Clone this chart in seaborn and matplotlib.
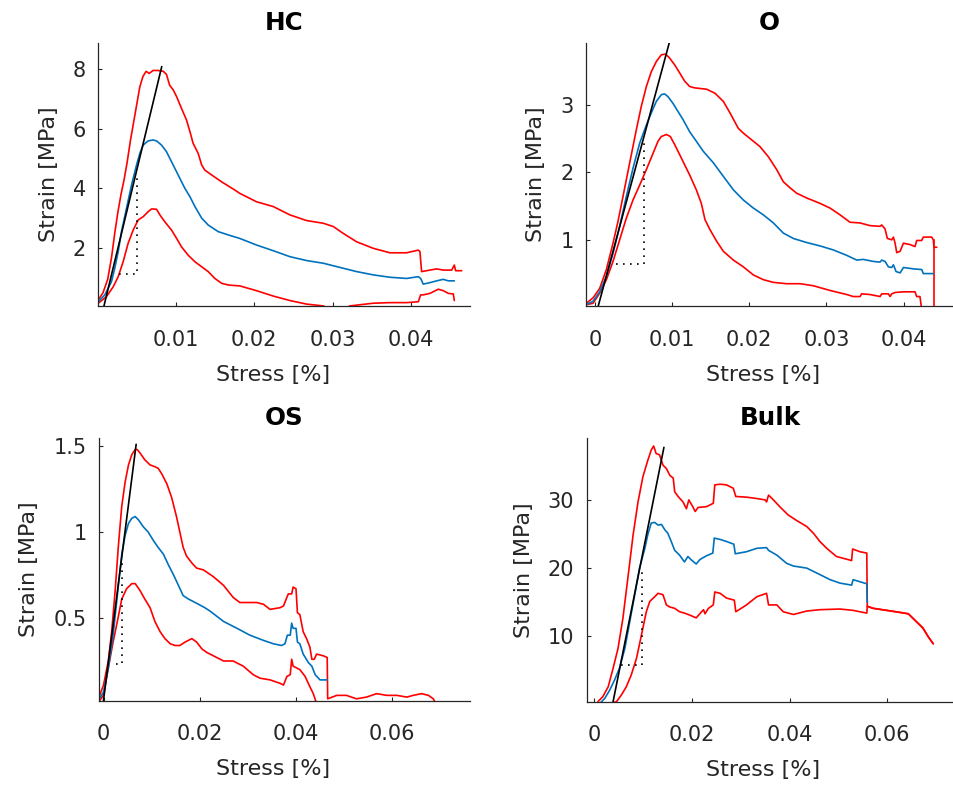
import matplotlib
matplotlib.use("Agg")
import matplotlib.pyplot as plt
import seaborn as sns

# ---------------- data (Stress [%] vs Strain [MPa]) ----------------
titles = ["HC", "O", "OS", "Bulk"]

# HC
hc_up_x = [0.0001,0.0007,0.0013,0.0018,0.0022,0.0026,0.0030,0.0034,0.0038,0.0042,0.0046,0.0050,0.0054,0.0058,0.0062,0.0066,0.0071,0.0077,0.0084,0.0088,0.0092,0.00966,0.0101,0.01072,0.01136,0.0118,0.0122,0.01285,0.0133,0.0137,0.01456,0.01583,0.01754,0.01817,0.0203,0.02243,0.02456,0.02669,0.02882,0.0301,0.03137,0.03307,0.0352,0.03733,0.03946,0.04095,0.04116,0.04137,0.04201,0.04329,0.04414,0.04521,0.04555,0.04572,0.04649]
hc_up_y = [0.26,0.5,0.95,1.7,2.5,3.2,3.8,4.3,4.9,5.6,6.2,6.8,7.4,7.75,7.92,7.85,7.95,7.95,7.92,7.82,7.46,7.30,7.07,6.68,6.29,5.90,5.51,5.17,4.78,4.61,4.45,4.22,3.94,3.83,3.55,3.39,3.11,2.92,2.83,2.72,2.49,2.21,1.99,1.84,1.84,1.93,1.88,1.21,1.24,1.30,1.26,1.26,1.43,1.24,1.24]
hc_mean_x = [0.0001,0.00093,0.00178,0.0022,0.00264,0.00306,0.0037,0.00434,0.00498,0.0054,0.00583,0.00647,0.0071,0.00753,0.00817,0.0088,0.00945,0.00987,0.0105,0.01115,0.0118,0.01243,0.0133,0.01413,0.0154,0.01668,0.01817,0.0203,0.02243,0.02456,0.02669,0.02882,0.03094,0.03307,0.0352,0.03733,0.03946,0.04095,0.04125,0.04158,0.04244,0.04329,0.04414,0.04478,0.04555]
hc_mean_y = [0.20,0.43,0.87,1.32,1.88,2.55,3.33,4.11,4.78,5.17,5.45,5.59,5.62,5.59,5.45,5.23,4.89,4.67,4.34,4.00,3.72,3.39,3.00,2.77,2.55,2.44,2.32,2.10,1.91,1.71,1.58,1.49,1.35,1.21,1.10,1.02,0.98,1.04,0.98,0.79,0.84,0.90,0.95,0.90,0.90]
hc_lo_x = [0.0001,0.00114,0.002,0.00264,0.00327,0.00391,0.00455,0.00519,0.00583,0.00647,0.0069,0.00753,0.00796,0.00859,0.00945,0.0101,0.01072,0.01157,0.01243,0.0133,0.01413,0.01498,0.01583,0.01668,0.01817,0.0203,0.02243,0.02456,0.02669,0.02882,0.02967,0.03137,0.03222,0.0352,0.03733,0.03946,0.04095,0.04125,0.04158,0.04244,0.0435,0.04414,0.04478,0.04542,0.04555]
hc_lo_y = [0.15,0.37,0.70,1.04,1.54,2.16,2.60,2.94,3.05,3.22,3.31,3.30,3.11,2.88,2.60,2.32,2.04,1.76,1.54,1.37,1.21,0.98,0.82,0.76,0.73,0.57,0.39,0.24,0.12,0.06,-0.05,-0.05,0.06,0.15,0.17,0.17,0.20,0.43,0.43,0.48,0.62,0.57,0.48,0.46,0.24]
hc_fit_x = [0.00077, 0.0082]
hc_fit_y = [0.0, 8.08]
hc_dot_x = [0.0028, 0.00498, 0.00498]
hc_dot_y = [1.13, 1.13, 4.37]

# O
o_up_x = [-0.0011,-0.00023,0.00063,0.0015,0.00236,0.003,0.00365,0.00452,0.00538,0.00603,0.00668,0.00732,0.00797,0.00862,0.00918,0.0097,0.01035,0.011,0.01164,0.01229,0.01294,0.01449,0.01557,0.01665,0.01751,0.01859,0.01924,0.02032,0.0214,0.02248,0.02356,0.02442,0.02529,0.02615,0.02744,0.02917,0.03047,0.03177,0.03306,0.03436,0.03566,0.03695,0.03717,0.0376,0.0379,0.03846,0.03868,0.0389,0.03911,0.03955,0.03998,0.04083,0.04148,0.0417,0.04234,0.04256,0.04364,0.04385,0.04394,0.0443]
o_up_y = [0.06,0.14,0.28,0.56,0.95,1.27,1.64,2.14,2.63,2.98,3.27,3.49,3.64,3.74,3.75,3.69,3.59,3.47,3.35,3.27,3.25,3.23,3.17,3.05,2.88,2.65,2.58,2.48,2.38,2.23,2.04,1.86,1.77,1.69,1.62,1.54,1.47,1.37,1.26,1.25,1.21,1.20,1.22,1.16,1.02,1.00,1.04,0.95,0.81,0.83,0.95,0.93,0.90,0.99,0.99,1.04,1.04,1.00,0.89,0.89]
o_mean_x = [-0.0011,-0.00023,0.00063,0.0015,0.00236,0.00322,0.00408,0.00495,0.00581,0.00668,0.00732,0.00797,0.00862,0.00905,0.00948,0.01013,0.01078,0.01143,0.01229,0.01315,0.01406,0.01536,0.01665,0.01795,0.01924,0.02054,0.02183,0.02313,0.02442,0.02572,0.02744,0.02917,0.0309,0.03263,0.03393,0.03479,0.03608,0.03695,0.03717,0.0376,0.03803,0.03846,0.03868,0.03903,0.03955,0.03998,0.04126,0.04234,0.04256,0.04385]
o_mean_y = [0.04,0.09,0.23,0.46,0.80,1.20,1.64,2.06,2.43,2.70,2.88,3.05,3.15,3.16,3.12,3.02,2.90,2.78,2.60,2.46,2.31,2.14,1.94,1.74,1.59,1.47,1.37,1.25,1.10,1.02,0.96,0.91,0.85,0.77,0.70,0.71,0.68,0.67,0.70,0.68,0.60,0.59,0.63,0.53,0.51,0.59,0.57,0.56,0.50,0.50]
o_lo_x = [-0.0011,-0.00023,0.00063,0.0015,0.00236,0.00322,0.00408,0.00495,0.00581,0.00668,0.00754,0.00819,0.00862,0.00927,0.00978,0.01035,0.011,0.01164,0.01229,0.01315,0.0138,0.01427,0.01492,0.01578,0.01665,0.01795,0.01924,0.02054,0.02183,0.02313,0.02485,0.0266,0.02831,0.03047,0.03263,0.03349,0.03436,0.03457,0.03565,0.03695,0.03717,0.03803,0.03825,0.03846,0.0389,0.03998,0.04148,0.0417,0.04212,0.04243,0.04394,0.04394]
o_lo_y = [0.04,0.06,0.21,0.41,0.68,1.00,1.32,1.59,1.81,2.04,2.28,2.46,2.53,2.56,2.53,2.41,2.26,2.11,1.96,1.74,1.54,1.30,1.15,0.98,0.83,0.70,0.60,0.48,0.41,0.37,0.35,0.35,0.32,0.25,0.19,0.16,0.16,0.20,0.19,0.16,0.20,0.20,0.16,0.20,0.22,0.23,0.23,0.16,0.16,-0.1,-0.1,1.0]
o_fit_x = [0.0004, 0.0097]
o_fit_y = [0.0, 3.94]
o_dot_x = [0.0028, 0.00635, 0.00635]
o_dot_y = [0.64, 0.64, 2.43]

# OS
os_up_x = [-0.00108,0,0.001,0.0017,0.0024,0.0031,0.0038,0.0045,0.0052,0.0059,0.0066,0.007,0.0076,0.0086,0.0097,0.0107,0.0114,0.0121,0.0132,0.0142,0.0152,0.0159,0.0166,0.0173,0.0184,0.0194,0.0208,0.0229,0.025,0.027,0.0284,0.0305,0.0319,0.0333,0.0347,0.0368,0.0375,0.0382,0.0385,0.0392,0.0395,0.0401,0.0404,0.0409,0.0416,0.0423,0.043,0.0434,0.0439,0.0444,0.0458,0.0466,0.0467,0.0486,0.0506,0.0527,0.0548,0.0569,0.059,0.0611,0.0632,0.0645,0.0663,0.0677,0.0687,0.0691]
os_up_y = [0.03,0.11,0.25,0.42,0.65,0.92,1.15,1.29,1.39,1.45,1.48,1.48,1.46,1.42,1.39,1.38,1.37,1.34,1.28,1.20,1.09,1.00,0.91,0.86,0.82,0.79,0.78,0.74,0.69,0.62,0.59,0.59,0.59,0.58,0.55,0.56,0.57,0.62,0.64,0.64,0.68,0.67,0.53,0.52,0.42,0.38,0.33,0.26,0.26,0.29,0.28,0.27,0.03,0.05,0.05,0.03,0.04,0.06,0.05,0.05,0.04,0.05,0.06,0.05,0.03,0.01]
os_mean_x = [-0.00108,0,0.001,0.002,0.0031,0.0038,0.0045,0.0052,0.0059,0.0066,0.0073,0.0083,0.0093,0.0104,0.0114,0.0125,0.0135,0.0146,0.0156,0.0166,0.0177,0.0191,0.0211,0.0222,0.025,0.0278,0.0305,0.0333,0.0354,0.0371,0.0378,0.0383,0.0389,0.0392,0.0395,0.0401,0.0404,0.0409,0.0416,0.0427,0.0434,0.0441,0.0451,0.0466]
os_mean_y = [0.02,0.07,0.21,0.40,0.69,0.87,0.98,1.05,1.08,1.09,1.07,1.03,1.00,0.95,0.91,0.87,0.81,0.75,0.69,0.63,0.61,0.59,0.56,0.54,0.48,0.44,0.40,0.37,0.35,0.34,0.35,0.40,0.40,0.47,0.44,0.44,0.36,0.35,0.29,0.24,0.22,0.17,0.14,0.14]
os_lo_x = [-0.00108,0,0.001,0.002,0.0031,0.0038,0.0048,0.0059,0.0066,0.0076,0.0086,0.0097,0.0107,0.0118,0.0128,0.0139,0.0149,0.0159,0.017,0.0184,0.0194,0.0205,0.0215,0.0236,0.025,0.027,0.0291,0.0312,0.0326,0.0347,0.0368,0.0375,0.0382,0.0389,0.0392,0.0395,0.0402,0.0409,0.042,0.043,0.0437,0.0443,0.0446]
os_lo_y = [0.01,0.05,0.21,0.36,0.51,0.61,0.67,0.70,0.70,0.66,0.61,0.56,0.48,0.42,0.38,0.35,0.34,0.34,0.36,0.38,0.36,0.32,0.30,0.27,0.25,0.25,0.22,0.17,0.15,0.14,0.12,0.11,0.16,0.17,0.26,0.22,0.21,0.20,0.16,0.10,0.06,0.01,-0.05]
os_fit_x = [-0.0001, 0.0068]
os_fit_y = [0.0, 1.51]
os_dot_x = [0.0026, 0.0038, 0.0038]
os_dot_y = [0.235, 0.235, 0.83]

# Bulk
bk_up_x = [0.0008,0.0018,0.0029,0.0039,0.0049,0.0059,0.007,0.008,0.009,0.01,0.011,0.0117,0.0122,0.0127,0.0134,0.0141,0.0148,0.0155,0.0162,0.0165,0.0172,0.0182,0.0189,0.0194,0.0202,0.0207,0.0213,0.023,0.0244,0.0247,0.0258,0.0271,0.0285,0.029,0.0312,0.0333,0.035,0.0353,0.0357,0.0367,0.038,0.0397,0.0414,0.0435,0.0449,0.0462,0.0476,0.0496,0.0517,0.0527,0.0529,0.0544,0.0558,0.0559,0.0571,0.0599,0.0626,0.0643,0.0653,0.0663,0.0673,0.0684,0.0694]
bk_up_y = [0.42,1.15,2.6,5.3,8.2,12.6,19.0,24.9,29.7,33.4,35.8,37.3,37.9,36.8,36.6,35.1,34.6,33.6,33.2,31.2,30.5,29.7,28.7,30.0,29.0,28.3,28.9,29.0,29.5,32.2,32.3,32.2,31.7,30.5,30.4,30.2,30.0,29.7,30.7,30.0,29.0,27.8,27.0,26.1,25.1,23.9,22.9,21.7,21.3,21.1,22.8,22.4,22.2,14.4,14.1,13.8,13.5,13.3,12.6,11.9,11.2,9.9,8.9]
bk_mean_x = [0.0012,0.0022,0.0032,0.0042,0.0052,0.0063,0.0073,0.0083,0.0093,0.0104,0.011,0.0117,0.0124,0.0131,0.0138,0.0145,0.0151,0.0158,0.0165,0.0175,0.0185,0.0192,0.0199,0.0209,0.0216,0.022,0.023,0.0243,0.0246,0.0258,0.0271,0.0286,0.0289,0.0312,0.0333,0.0353,0.0357,0.0374,0.0394,0.0408,0.0435,0.0455,0.0483,0.0503,0.0527,0.053,0.0544,0.0558,0.0559]
bk_mean_y = [0.17,0.9,2.1,3.6,5.3,8.2,12.1,16.0,20.0,22.9,24.9,26.6,26.7,26.3,26.4,25.6,25.1,23.9,22.6,21.9,20.9,21.7,21.2,20.6,21.2,21.4,21.8,22.2,24.4,24.2,23.9,23.5,22.1,22.4,22.9,23.0,22.6,21.9,20.7,20.3,20.0,19.3,18.3,17.8,17.5,18.3,18.0,17.7,15.0]
bk_lo_x = [0.0035,0.0046,0.0056,0.0066,0.0076,0.0087,0.0097,0.0107,0.0114,0.0124,0.0131,0.0141,0.0148,0.0155,0.0165,0.0175,0.0185,0.0196,0.0209,0.022,0.0224,0.0227,0.0234,0.0244,0.0247,0.0258,0.0271,0.0287,0.029,0.0312,0.0333,0.0353,0.0357,0.0374,0.0387,0.0408,0.0435,0.0462,0.0503,0.053,0.0558,0.0559,0.0571,0.0599,0.0626,0.0643,0.0653,0.0663,0.0673,0.0684,0.0694]
bk_lo_y = [0.17,0.42,1.4,2.6,4.3,6.8,10.2,13.6,15.1,15.8,16.3,16.1,14.6,14.3,14.1,13.6,13.4,13.1,12.7,13.6,13.9,13.3,14.1,14.6,16.5,16.3,15.6,15.3,13.6,14.6,15.8,16.3,14.6,14.6,13.6,13.2,13.7,13.9,14.0,13.8,13.4,14.4,14.1,13.8,13.5,13.3,12.6,11.9,11.2,9.9,8.9]
bk_fit_x = [0.00378, 0.0143]
bk_fit_y = [0.0, 37.7]
bk_dot_x = [0.0055, 0.0099, 0.0099]
bk_dot_y = [5.8, 5.8, 20.0]

# ticks
hc_xticks = [0.01, 0.02, 0.03, 0.04]
hc_xlabels = ["0.01", "0.02", "0.03", "0.04"]
hc_yticks = [2, 4, 6, 8]
hc_ylabels = ["2", "4", "6", "8"]
o_xticks = [0, 0.01, 0.02, 0.03, 0.04]
o_xlabels = ["0", "0.01", "0.02", "0.03", "0.04"]
o_yticks = [1, 2, 3]
o_ylabels = ["1", "2", "3"]
os_xticks = [0, 0.02, 0.04, 0.06]
os_xlabels = ["0", "0.02", "0.04", "0.06"]
os_yticks = [0.5, 1.0, 1.5]
os_ylabels = ["0.5", "1", "1.5"]
bk_xticks = [0, 0.02, 0.04, 0.06]
bk_xlabels = ["0", "0.02", "0.04", "0.06"]
bk_yticks = [10, 20, 30]
bk_ylabels = ["10", "20", "30"]

# ---------------- style ----------------
sns.set_theme(style="white")
plt.rcParams['font.family'] = ['DejaVu Sans']
GRAY = "#262626"
RED = "#FF0000"
BLUE = "#0072BD"

W, H = 954, 789
fig = plt.figure(figsize=(W / 100, H / 100), dpi=100)
fig.patch.set_facecolor("white")

def px_axes(l, r, t, b):
    return [l / W, 1 - b / H, (r - l) / W, (b - t) / H]

panels = [
    dict(pos=px_axes(98.3, 470, 43.3, 306), title=titles[0],
         curves=[(hc_up_x, hc_up_y, RED), (hc_lo_x, hc_lo_y, RED), (hc_mean_x, hc_mean_y, BLUE)],
         fit=(hc_fit_x, hc_fit_y), dot=(hc_dot_x, hc_dot_y),
         xlim=(0.0001, 0.04755), ylim=(0.057, 8.86),
         xt=(hc_xticks, hc_xlabels), yt=(hc_yticks, hc_ylabels), xlc=0.471),
    dict(pos=px_axes(586, 953.3, 43.3, 306), title=titles[1],
         curves=[(o_up_x, o_up_y, RED), (o_lo_x, o_lo_y, RED), (o_mean_x, o_mean_y, BLUE)],
         fit=(o_fit_x, o_fit_y), dot=(o_dot_x, o_dot_y),
         xlim=(-0.00114, 0.04644), ylim=(0.02, 3.91),
         xt=(o_xticks, o_xlabels), yt=(o_yticks, o_ylabels), xlc=0.482),
    dict(pos=px_axes(99, 470, 438.3, 700.7), title=titles[2],
         curves=[(os_up_x, os_up_y, RED), (os_lo_x, os_lo_y, RED), (os_mean_x, os_mean_y, BLUE)],
         fit=(os_fit_x, os_fit_y), dot=(os_dot_x, os_dot_y),
         xlim=(-0.00094, 0.07635), ylim=(0.019, 1.545),
         xt=(os_xticks, os_xlabels), yt=(os_yticks, os_ylabels), xlc=0.469),
    dict(pos=px_axes(586.7, 953.3, 438.3, 701.7), title=titles[3],
         curves=[(bk_up_x, bk_up_y, RED), (bk_lo_x, bk_lo_y, RED), (bk_mean_x, bk_mean_y, BLUE)],
         fit=(bk_fit_x, bk_fit_y), dot=(bk_dot_x, bk_dot_y),
         xlim=(-0.0015, 0.0735), ylim=(0.41, 39.03),
         xt=(bk_xticks, bk_xlabels), yt=(bk_yticks, bk_ylabels), xlc=0.482),
]

for p in panels:
    ax = fig.add_axes(p["pos"])
    ax.set_facecolor("white")
    for xs, ys, c in p["curves"]:
        sns.lineplot(x=xs, y=ys, ax=ax, sort=False, estimator=None,
                     color=c, linewidth=1.2, legend=False)
    sns.lineplot(x=p["fit"][0], y=p["fit"][1], ax=ax, sort=False, estimator=None,
                 color="black", linewidth=1.2, legend=False)
    sns.lineplot(x=p["dot"][0], y=p["dot"][1], ax=ax, sort=False, estimator=None,
                 color="black", linewidth=1.2, linestyle=(0, (1, 3.2)), legend=False)
    ax.set_xlim(*p["xlim"])
    ax.set_ylim(*p["ylim"])
    ax.set_xticks(p["xt"][0], p["xt"][1])
    ax.set_yticks(p["yt"][0], p["yt"][1])
    for s in ["top", "right"]:
        ax.spines[s].set_visible(False)
    for s in ["left", "bottom"]:
        ax.spines[s].set_color(GRAY)
        ax.spines[s].set_linewidth(0.9)
    ax.tick_params(axis="both", direction="in", length=3, width=0.8,
                   color=GRAY, labelcolor=GRAY, labelsize=15)
    ax.tick_params(axis="x", pad=17, bottom=True)
    ax.tick_params(axis="y", pad=9, left=True)
    ax.set_title(p["title"], fontsize=17.7, fontweight="bold", color="black", pad=9.4)
    ax.set_xlabel("Stress [%]", fontsize=16, color=GRAY)
    ax.xaxis.set_label_coords(p["xlc"], -0.2227)
    ax.set_ylabel("Strain [MPa]", fontsize=16, color=GRAY, labelpad=10)
    ax.grid(False)

fig.savefig("out.png", dpi=100, facecolor="white")
